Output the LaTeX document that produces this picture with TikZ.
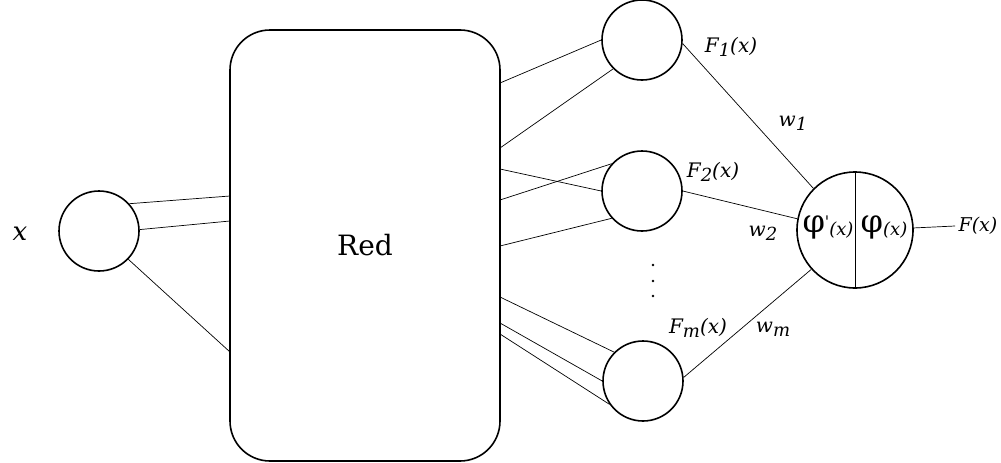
\documentclass[tikz,border=0pt]{standalone}
\usepackage{fontspec}
\setmainfont{DejaVu Serif}
\newcommand{\lowsub}[1]{\raisebox{-0.35ex}{\scalebox{0.9}{#1}}}
\tikzset{
  neuron/.style={circle,draw=black,line width=1.6pt,minimum size=80pt,inner sep=0pt},
  conn/.style={draw=black,line width=0.7pt},
  lbl/.style={inner sep=0pt,font=\fontsize{20}{22}\selectfont\itshape},
}
\begin{document}
\begin{tikzpicture}[x=1pt,y=-1pt]
\useasboundingbox (0,0) rectangle (1001,463);
\node[draw=black,line width=1.6pt,rounded corners=40pt,minimum width=270pt,minimum height=431pt,inner sep=0pt,font=\fontsize{28}{30}\selectfont] (box) at (365,245.5) {Red};
\node[neuron] (in) at (99,231) {};
\node[neuron] (h1) at (642,40) {};
\node[neuron] (h2) at (642,191) {};
\node[neuron] (h3) at (643,381) {};
\node[circle,draw=black,line width=1.6pt,minimum size=116pt,inner sep=0pt] (out) at (855,230) {};
\draw[line width=1pt] (out.north) -- (out.south);
\node[inner sep=0pt,font=\fontsize{26}{28}\selectfont\itshape] (xl) at (20,234) {x};
% attachment points on the box
\coordinate (w1) at (230,196);
\coordinate (w2) at (230,221);
\coordinate (w3) at (230,352);
\coordinate (e1) at (500,83);
\coordinate (e2) at (500,148);
\coordinate (e3) at (500,169);
\coordinate (e4) at (500,200);
\coordinate (e5) at (500,246);
\coordinate (e6) at (500,297);
\coordinate (e7) at (500,323);
\coordinate (e8) at (500,334);
\coordinate (fx) at (955,226);
\draw[conn] (in.42) -- (w1);
\draw[conn] (in.2) -- (w2);
\draw[conn] (in.316) -- (w3);
\draw[conn] (e1) -- (h1.180);
\draw[conn] (e2) -- (h1.225);
\draw[conn] (e3) -- (h2.180);
\draw[conn] (e4) -- (h2.138);
\draw[conn] (e5) -- (h2.222);
\draw[conn] (e6) -- (h3.135);
\draw[conn] (e7) -- (h3.180);
\draw[conn] (e8) -- (h3.215);
\draw[conn] (h1.-5) -- (out.135);
\draw[conn] (h2.0) -- (out.169);
\draw[conn] (h3.5) -- (out.222);
\draw[conn] (out.2) -- (fx);
% dots
\fill (653,265) circle (1.3pt);
\fill (653,281) circle (1.3pt);
\fill (653,296) circle (1.3pt);
% labels
\node[lbl] (lf1) at (731,47) {F\lowsub{1}(x)};
\node[lbl] (lw1) at (793,123) {w\lowsub{1}};
\node[lbl] (lf2) at (713,172) {F\lowsub{2}(x)};
\node[lbl] (lw2) at (763,233) {w\lowsub{2}};
\node[lbl] (lfm) at (698,328) {F\lowsub{m}(x)};
\node[lbl] (lwm) at (773,329) {w\lowsub{m}};
\node[inner sep=0pt] (phi1) at (828,227) {\fontsize{32}{34}\selectfont φ\raisebox{0.3ex}{\fontsize{16}{18}\selectfont\textquotesingle}\fontsize{20}{22}\selectfont\itshape\lowsub{(x)}};
\node[inner sep=0pt] (phi2) at (884,227) {\fontsize{32}{34}\selectfont φ\fontsize{20}{22}\selectfont\itshape\lowsub{(x)}};
\node[inner sep=0pt,font=\fontsize{19}{21}\selectfont\itshape] (lfx) at (978,226) {F(x)};
\end{tikzpicture}
\end{document}
